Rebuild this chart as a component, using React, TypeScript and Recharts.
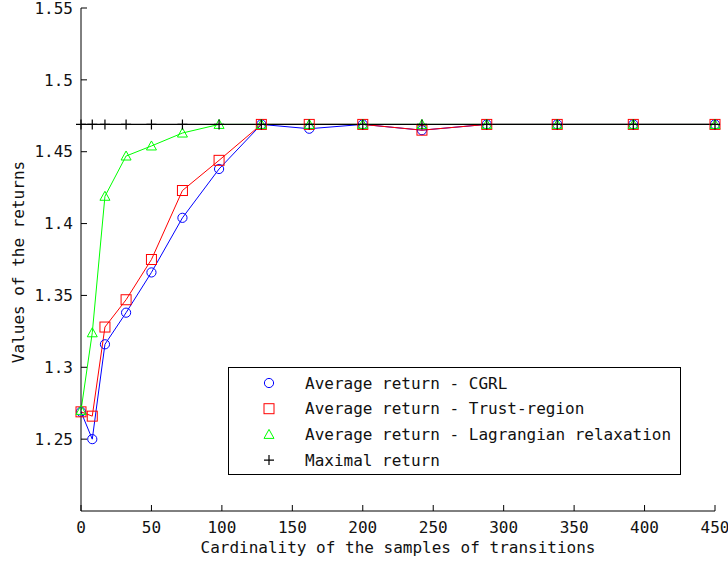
import React from 'react';
import { LineChart, Line, XAxis, YAxis, Legend } from 'recharts';

const samples = [0, 8, 17, 32, 50, 72, 98, 128, 162, 200, 242, 288, 338, 392, 450];
const cgrl = [1.269, 1.250, 1.316, 1.338, 1.366, 1.404, 1.438, 1.469, 1.466, 1.469, 1.465, 1.469, 1.469, 1.469, 1.469];
const trust = [1.269, 1.266, 1.328, 1.347, 1.375, 1.423, 1.444, 1.469, 1.469, 1.469, 1.465, 1.469, 1.469, 1.469, 1.469];
const lagrangian = [1.270, 1.324, 1.419, 1.447, 1.454, 1.463, 1.469, 1.469, 1.469, 1.469, 1.469, 1.469, 1.469, 1.469, 1.469];
const maximal = [1.469, 1.469, 1.469, 1.469, 1.469, 1.469, 1.469, 1.469, 1.469, 1.469, 1.469, 1.469, 1.469, 1.469, 1.469];

const xTicks = [0, 50, 100, 150, 200, 250, 300, 350, 400, 450];
const yTicks = [1.25, 1.3, 1.35, 1.4, 1.45, 1.5, 1.55];

const seriesOrder = ['cgrl', 'trust', 'lagrangian', 'maximal'];
const seriesNames = {
  cgrl: 'Average return - CGRL',
  trust: 'Average return - Trust-region',
  lagrangian: 'Average return - Lagrangian relaxation',
  maximal: 'Maximal return',
};

const data = samples.map((s, i) => ({
  x: s,
  cgrl: cgrl[i],
  trust: trust[i],
  lagrangian: lagrangian[i],
  maximal: maximal[i],
}));

const FONT = '"DejaVu Sans Mono", monospace';
const BLUE = '#0000ff';
const RED = '#ff0000';
const GREEN = '#00ff00';

function marker(kind: string, cx: number, cy: number, key?: any) {
  if (kind === 'cgrl') {
    return <circle key={key} cx={cx} cy={cy} r={4.6} fill="none" stroke={BLUE} strokeWidth={1} />;
  }
  if (kind === 'trust') {
    return <rect key={key} x={cx - 5} y={cy - 5} width={10} height={10} fill="none" stroke={RED} strokeWidth={1} />;
  }
  if (kind === 'lagrangian') {
    return (
      <path key={key} d={`M${cx},${cy - 5} L${cx + 5},${cy + 4} L${cx - 5},${cy + 4} Z`} fill="none" stroke={GREEN} strokeWidth={1} />
    );
  }
  return (
    <path key={key} d={`M${cx - 5},${cy} L${cx + 5},${cy} M${cx},${cy - 5} L${cx},${cy + 5}`} fill="none" stroke="#000" strokeWidth={1.2} />
  );
}

const makeDot = (kind: string) => (props: any) => {
  const { cx, cy, index } = props;
  if (cx == null || cy == null) return <g key={`${kind}-${index}`} />;
  return marker(kind, cx, cy, `${kind}-${index}`);
};

const LegendBox = (props: any) => {
  const payload = [...(props.payload || [])].sort(
    (a: any, b: any) => seriesOrder.indexOf(a.dataKey) - seriesOrder.indexOf(b.dataKey)
  );
  return (
    <svg width={454} height={109} style={{ display: 'block' }}>
      <rect x={0.5} y={0.5} width={452} height={107} fill="#fff" stroke="#000" strokeWidth={1} />
      {payload.map((p: any, i: number) => {
        const cy = 16 + i * 25.7;
        return (
          <g key={p.value}>
            {marker(p.dataKey, 41, cy)}
            <text x={77} y={cy} dominantBaseline="central" fontFamily={FONT} fontSize={16} fill="#111">
              {p.value}
            </text>
          </g>
        );
      })}
    </svg>
  );
};

export default function App() {
  const tickStyle = { fontFamily: FONT, fontSize: 16, fill: '#111' };
  return (
    <div style={{ position: 'absolute', left: 0, top: 0, background: '#fff' }}>
      <LineChart width={728} height={571} data={data} margin={{ top: 8, right: 13, bottom: 0, left: 0 }}>
        <XAxis
          xAxisId="bottom"
          dataKey="x"
          type="number"
          domain={[0, 450]}
          ticks={xTicks}
          height={60}
          tickSize={-6}
          tickMargin={17}
          tick={tickStyle}
          stroke="#000"
          axisLine={{ stroke: '#000' }}
          tickLine={{ stroke: '#000' }}
          interval={0}
          label={(p: any) => {
            const vb = p.viewBox || {};
            return (
              <text x={vb.x + vb.width / 2} y={553} textAnchor="middle" fontFamily={FONT} fontSize={16} fill="#111">
                Cardinality of the samples of transitions
              </text>
            );
          }}
        />
        <XAxis
          xAxisId="top"
          dataKey="x"
          type="number"
          orientation="top"
          domain={[0, 450]}
          ticks={xTicks}
          height={0}
          tickSize={-6}
          tickFormatter={() => ''}
          axisLine={{ stroke: '#000' }}
          tickLine={{ stroke: '#000' }}
          interval={0}
        />
        <YAxis
          yAxisId="left"
          type="number"
          domain={[1.2, 1.55]}
          ticks={yTicks}
          width={81}
          tickSize={-6}
          tickMargin={14}
          tick={tickStyle}
          axisLine={{ stroke: '#000' }}
          tickLine={{ stroke: '#000' }}
          interval={0}
          label={() => {
            const cx = 18;
            const cy = 262;
            return (
              <text
                x={cx}
                y={cy}
                textAnchor="middle"
                dominantBaseline="central"
                transform={`rotate(-90 ${cx} ${cy})`}
                fontFamily={FONT}
                fontSize={16}
                fill="#111"
              >
                Values of the returns
              </text>
            );
          }}
        />
        <YAxis
          yAxisId="right"
          orientation="right"
          type="number"
          domain={[1.2, 1.55]}
          ticks={yTicks}
          width={0}
          tickSize={-6}
          tickFormatter={() => ''}
          axisLine={{ stroke: '#000' }}
          tickLine={{ stroke: '#000' }}
          interval={0}
        />
        <Legend
          layout="horizontal"
          verticalAlign="middle"
          align="center"
          content={<LegendBox />}
          wrapperStyle={{ position: 'absolute', left: 228, top: 367, width: 454, height: 109 }}
        />
        <Line
          xAxisId="bottom"
          yAxisId="left"
          dataKey="cgrl"
          name={seriesNames.cgrl}
          stroke={BLUE}
          strokeWidth={1}
          dot={makeDot('cgrl')}
          activeDot={false}
          isAnimationActive={false}
        />
        <Line
          xAxisId="bottom"
          yAxisId="left"
          dataKey="trust"
          name={seriesNames.trust}
          stroke={RED}
          strokeWidth={1}
          dot={makeDot('trust')}
          activeDot={false}
          isAnimationActive={false}
        />
        <Line
          xAxisId="bottom"
          yAxisId="left"
          dataKey="lagrangian"
          name={seriesNames.lagrangian}
          stroke={GREEN}
          strokeWidth={1}
          dot={makeDot('lagrangian')}
          activeDot={false}
          isAnimationActive={false}
        />
        <Line
          xAxisId="bottom"
          yAxisId="left"
          dataKey="maximal"
          name={seriesNames.maximal}
          stroke="#000"
          strokeWidth={1.2}
          dot={makeDot('maximal')}
          activeDot={false}
          isAnimationActive={false}
        />
      </LineChart>
    </div>
  );
}
